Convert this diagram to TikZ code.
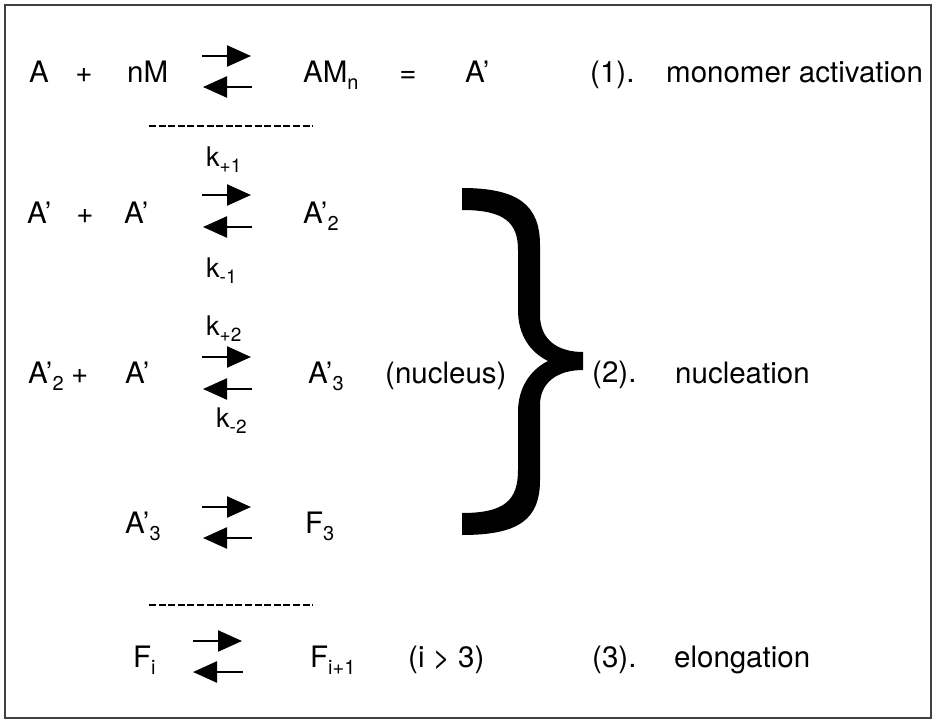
\documentclass[tikz,border=0pt]{standalone}
\usepackage{fontspec}
\setmainfont{TeX Gyre Heros}
\usetikzlibrary{arrows.meta}
\newcommand\sbx[1]{\raisebox{-7pt}{\fontsize{20}{20}\selectfont #1}}
\newcommand\kk[2]{{\fontsize{27}{27}\selectfont k\raisebox{-6pt}{\fontsize{19}{19}\selectfont #1}}}
\tikzset{
  txt/.style={anchor=base west, inner sep=0pt, font=\fontsize{29.5}{31}\selectfont},
  txc/.style={anchor=base, inner sep=0pt, font=\fontsize{29.5}{31}\selectfont},
  kl/.style={anchor=base west, inner sep=0pt},
  fwd/.style={line width=2.4pt, -{Triangle[length=24pt,width=21pt]}},
  dashline/.style={line width=2pt, dash pattern=on 7pt off 2.6pt},
  frame/.style={draw=black!75, line width=1.8pt}
}
\begin{document}
\begin{tikzpicture}[x=1pt,y=-1pt]
\useasboundingbox (0,0) rectangle (934,722);
\draw[frame] (5,5) rectangle (931,718);
% row 1
\node[txt] (a1) at (29,83) {A};
\node[txc] (p1) at (84,83) {+};
\node[txt] (nm) at (127,83) {nM};
\coordinate (r1a) at (202,56); \coordinate (r1b) at (251,56);
\coordinate (l1a) at (252,87); \coordinate (l1b) at (203,87);
\draw[fwd] (r1a) -- (r1b);
\draw[fwd] (l1a) -- (l1b);
\node[txt] (amn) at (303,83) {AM\sbx{n}};
\node[txc] (eq) at (408,83) {=};
\node[txt] (ap1) at (465,83) {A’};
\node[txt] (n1) at (590,83) {(1).};
\node[txt] (mono) at (666,83) {monomer activation};
\coordinate (d1a) at (149,126); \coordinate (d1b) at (313,126);
\draw[dashline] (d1a) -- (d1b);
% row 2
\node[kl] (kp1) at (206,167) {\kk{+1}{}};
\node[txt] (a2) at (27,223) {A’};
\node[txc] (p2) at (85,223) {+};
\node[txt] (a2b) at (124,223) {A’};
\coordinate (r2a) at (202,195); \coordinate (r2b) at (251,195);
\coordinate (l2a) at (252,227); \coordinate (l2b) at (203,227);
\draw[fwd] (r2a) -- (r2b);
\draw[fwd] (l2a) -- (l2b);
\node[txt] (a22) at (303,223) {A’\sbx{2}};
\node[kl] (km1) at (206,277) {\kk{-1}{}};
% row 3
\node[kl] (kp2) at (206,335) {\kk{+2}{}};
\node[txt] (a32) at (28,383) {A’\sbx{2}};
\node[txt] (p3) at (71,383) {+};
\node[txt] (a3b) at (125,383) {A’};
\coordinate (r3a) at (202,357); \coordinate (r3b) at (251,357);
\coordinate (l3a) at (252,389); \coordinate (l3b) at (203,389);
\draw[fwd] (r3a) -- (r3b);
\draw[fwd] (l3a) -- (l3b);
\node[txt] (a33) at (308,383) {A’\sbx{3}};
\node[txt] (nuc) at (385,383) {(nucleus)};
\node[kl] (km2) at (216,427) {\kk{-2}{}};
\node[txt] (n2) at (592,382) {(2).};
\node[txt] (nucl) at (675,383) {nucleation};
% brace
\fill[black] (462,188) .. controls (518,188) and (540,205) .. (540,245)
  -- (540,315) .. controls (540,340) and (558,352) .. (583,352)
  -- (583,370) .. controls (558,370) and (540,382) .. (540,405)
  -- (540,480) .. controls (540,520) and (518,535) .. (462,535)
  -- (462,513) .. controls (505,513) and (518,500) .. (518,470)
  -- (518,412) .. controls (518,388) and (530,370) .. (548,361)
  .. controls (530,352) and (518,335) .. (518,310)
  -- (518,250) .. controls (518,223) and (505,210) .. (462,210) -- cycle;
% row 4
\node[txt] (a43) at (125,533) {A’\sbx{3}};
\coordinate (r4a) at (202,507); \coordinate (r4b) at (251,507);
\coordinate (l4a) at (252,538); \coordinate (l4b) at (203,538);
\draw[fwd] (r4a) -- (r4b);
\draw[fwd] (l4a) -- (l4b);
\node[txt] (f3) at (305,533) {F\sbx{3}};
\coordinate (d2a) at (149,605); \coordinate (d2b) at (313,605);
\draw[dashline] (d2a) -- (d2b);
% row 5
\node[txt] (fi) at (133,667) {F\sbx{i}};
\coordinate (r5a) at (193,641); \coordinate (r5b) at (242,641);
\coordinate (l5a) at (243,672); \coordinate (l5b) at (193,672);
\draw[fwd] (r5a) -- (r5b);
\draw[fwd] (l5a) -- (l5b);
\node[txt] (fi1) at (310,667) {F\sbx{i+1}};
\node[txt] (icond) at (408,667) {(i > 3)};
\node[txt] (n3) at (592,667) {(3).};
\node[txt] (elong) at (674,667) {elongation};
\end{tikzpicture}
\end{document}
